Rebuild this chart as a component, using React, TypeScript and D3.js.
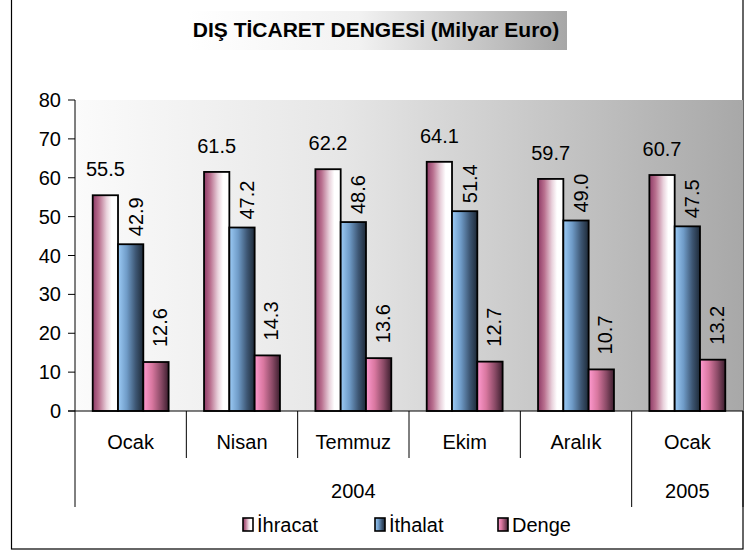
import React from "react";
import * as d3 from "d3";

const months = ["Ocak", "Nisan", "Temmuz", "Ekim", "Aralık", "Ocak"];
const years = [
  { label: "2004", from: 0, to: 5 },
  { label: "2005", from: 5, to: 6 },
];
const seriesNames = ["İhracat", "İthalat", "Denge"];
const ihracat = [55.5, 61.5, 62.2, 64.1, 59.7, 60.7];
const ithalat = [42.9, 47.2, 48.6, 51.4, 49.0, 47.5];
const denge = [12.6, 14.3, 13.6, 12.7, 10.7, 13.2];
const yTicks = [0, 10, 20, 30, 40, 50, 60, 70, 80];
const title = "DIŞ TİCARET DENGESİ (Milyar Euro)";

const W = 748;
const H = 551;
const FONT = "Liberation Sans, Arial, sans-serif";
const FS = 20;

const gradStops: Record<string, [string, string][]> = {
  g0: [["0%", "#8E3A66"], ["25%", "#B9708F"], ["55%", "#E9D2DC"], ["75%", "#FFFFFF"], ["100%", "#FFFFFF"]],
  g1: [["0%", "#9CCBF6"], ["35%", "#6F9BC7"], ["70%", "#3D5673"], ["100%", "#1E2A38"]],
  g2: [["0%", "#FF9AD0"], ["35%", "#D8779F"], ["70%", "#8A4A66"], ["100%", "#3C1E2E"]],
};

export default function App() {
  const left = 75;
  const right = 743;
  const top = 100;
  const bottom = 411;

  const x0 = d3.scaleBand<number>().domain(d3.range(months.length)).range([left, right]).padding(0);
  const x1 = d3
    .scaleBand<number>()
    .domain([0, 1, 2])
    .range([0, x0.bandwidth()])
    .paddingInner(0)
    .paddingOuter(0.7);
  const y = d3.scaleLinear().domain([0, 80]).range([bottom, top]);

  const data = [ihracat, ithalat, denge];
  const labelGap = [19, 8, 15];
  const labelDx = [0, 5, 4];

  const bounds = d3.range(months.length + 1).map((i) =>
    i < months.length ? (x0(i) as number) : right
  );
  const yearBounds = new Set<number>();
  years.forEach((yr) => {
    yearBounds.add(yr.from);
    yearBounds.add(yr.to);
  });

  return (
    <svg width={W} height={H} style={{ position: "absolute", left: 0, top: 0 }}>
      <defs>
        <linearGradient id="plotBg" x1="0" x2="1" y1="0" y2="0">
          <stop offset="0%" stopColor="#FBFBFB" />
          <stop offset="40%" stopColor="#E6E6E6" />
          <stop offset="100%" stopColor="#A8A8A8" />
        </linearGradient>
        <linearGradient id="titleBg" x1="0" x2="1" y1="0" y2="0">
          <stop offset="0%" stopColor="#FFFFFF" />
          <stop offset="45%" stopColor="#F2F2F2" />
          <stop offset="100%" stopColor="#A6A6A6" />
        </linearGradient>
        {Object.entries(gradStops).map(([id, stops]) => (
          <linearGradient key={id} id={id} x1="0" x2="1" y1="0" y2="0">
            {stops.map(([o, c], i) => (
              <stop key={i} offset={o} stopColor={c} />
            ))}
          </linearGradient>
        ))}
      </defs>
      <rect x={0} y={0} width={W} height={H} fill="#FFFFFF" />
      {/* outer frame */}
      <rect x={11.5} y={-2} width={731.5} height={551} fill="none" stroke="#000" strokeWidth={1.2} />

      {/* title */}
      <rect x={188} y={11} width={379} height={39} fill="url(#titleBg)" />
      <text
        x={376}
        y={37}
        textAnchor="middle"
        fontFamily={FONT}
        fontWeight="bold"
        fontSize={21}
        fill="#000"
      >
        {title}
      </text>

      {/* plot area */}
      <rect x={left} y={top} width={right - left} height={bottom - top} fill="url(#plotBg)" />

      {/* y axis */}
      <line x1={left} x2={left} y1={top} y2={bottom} stroke="#000" strokeWidth={1} />
      {yTicks.map((t) => (
        <g key={t}>
          <line x1={left - 7} x2={left} y1={y(t)} y2={y(t)} stroke="#000" />
          <text
            x={left - 14}
            y={y(t)}
            dy="0.35em"
            textAnchor="end"
            fontFamily={FONT}
            fontSize={FS}
            fill="#000"
          >
            {t}
          </text>
        </g>
      ))}

      {/* bars */}
      {data.map((vals, s) =>
        vals.map((v, i) => {
          const bx = (x0(i) as number) + (x1(s) as number);
          const bw = x1.bandwidth();
          return (
            <rect
              key={`${s}-${i}`}
              x={bx}
              y={y(v)}
              width={bw}
              height={bottom - y(v)}
              fill={`url(#g${s})`}
              stroke="#000"
              strokeWidth={1.8}
            />
          );
        })
      )}

      {/* data labels */}
      {data.map((vals, s) =>
        vals.map((v, i) => {
          const cx = (x0(i) as number) + (x1(s) as number) + x1.bandwidth() / 2 + labelDx[s];
          const ty = y(v) - labelGap[s];
          if (s === 0) {
            return (
              <text
                key={`l${s}-${i}`}
                x={cx}
                y={ty}
                textAnchor="middle"
                fontFamily={FONT}
                fontSize={FS}
                fill="#000"
              >
                {v.toFixed(1)}
              </text>
            );
          }
          return (
            <text
              key={`l${s}-${i}`}
              transform={`translate(${cx},${ty}) rotate(-90)`}
              x={0}
              y={0}
              dy="0.35em"
              textAnchor="start"
              fontFamily={FONT}
              fontSize={FS}
              fill="#000"
            >
              {v.toFixed(1)}
            </text>
          );
        })
      )}

      {/* x axis */}
      <line x1={left - 7} x2={right} y1={bottom} y2={bottom} stroke="#000" strokeWidth={1} />
      {bounds.map((bx, i) => (
        <line
          key={`d${i}`}
          x1={bx}
          x2={bx}
          y1={bottom}
          y2={yearBounds.has(i) ? 507 : 458}
          stroke="#000"
          strokeWidth={1}
        />
      ))}
      {months.map((m, i) => (
        <text
          key={`m${i}`}
          x={(x0(i) as number) + x0.bandwidth() / 2}
          y={449}
          textAnchor="middle"
          fontFamily={FONT}
          fontSize={FS}
          fill="#000"
        >
          {m}
        </text>
      ))}
      {years.map((yr) => (
        <text
          key={yr.label}
          x={(bounds[yr.from] + bounds[yr.to]) / 2}
          y={498}
          textAnchor="middle"
          fontFamily={FONT}
          fontSize={FS}
          fill="#000"
        >
          {yr.label}
        </text>
      ))}

      {/* legend */}
      {seriesNames.map((name, s) => {
        const lx = [243, 375, 498][s];
        return (
          <g key={name}>
            <rect x={lx} y={518} width={10} height={13} fill={`url(#g${s})`} stroke="#000" strokeWidth={1.6} />
            <text x={lx + 14} y={532} fontFamily={FONT} fontSize={FS} fill="#000">
              {name}
            </text>
          </g>
        );
      })}
    </svg>
  );
}
